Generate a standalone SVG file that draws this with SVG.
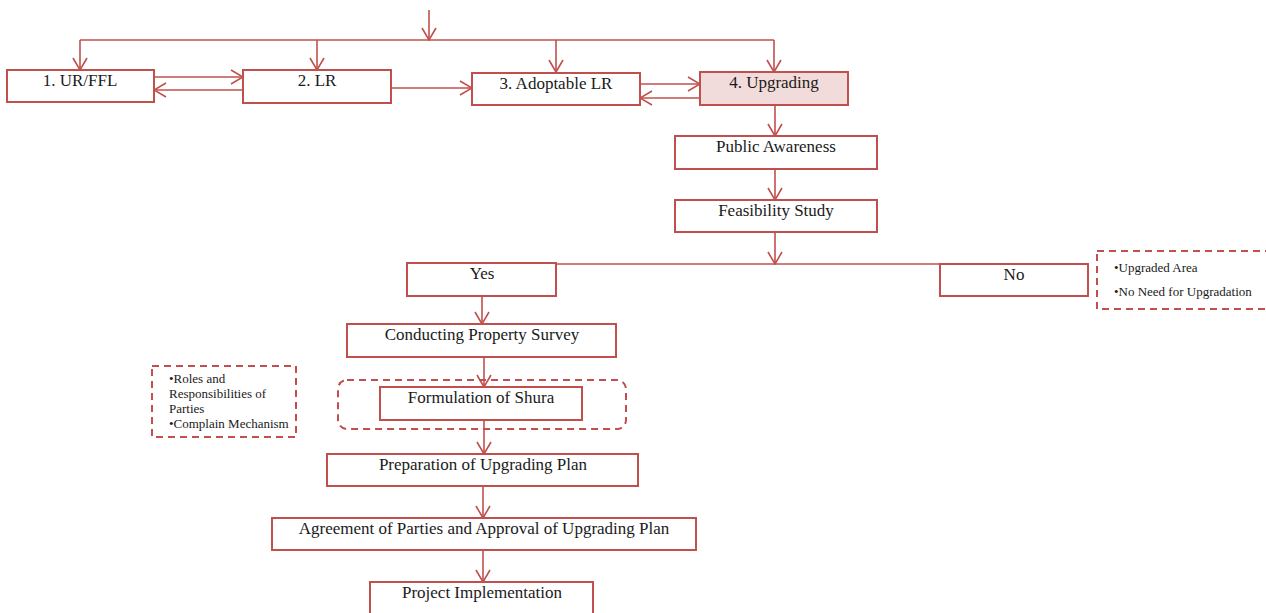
<svg xmlns="http://www.w3.org/2000/svg" width="1266" height="613" viewBox="0 0 1266 613">
<style>
.box{fill:#ffffff;stroke:#c0504d;stroke-width:2}
.hl{fill:#f2dcdb}
.dash{fill:none;stroke:#c0504d;stroke-width:2;stroke-dasharray:7,5}
.ln{fill:none;stroke:#c0504d;stroke-width:1.6}
.t{font-family:"Liberation Serif","DejaVu Serif",serif;font-size:17px;fill:#1a1a1a;text-anchor:middle}
.s{font-family:"Liberation Serif","DejaVu Serif",serif;font-size:13px;fill:#1a1a1a}
</style>
<defs>
<marker id="ah" viewBox="0 0 14 16" refX="13" refY="8" markerWidth="14" markerHeight="16" markerUnits="userSpaceOnUse" orient="auto">
<path d="M1,1 L13,8 L1,15" fill="none" stroke="#c0504d" stroke-width="1.6"/>
</marker>
</defs>
<rect width="1266" height="613" fill="#ffffff"/>
<g id="connectors">
<path class="ln" d="M429,10 V40" marker-end="url(#ah)"/>
<path class="ln" d="M80,40 H774"/>
<path class="ln" d="M80,40 V70" marker-end="url(#ah)"/>
<path class="ln" d="M317,40 V70" marker-end="url(#ah)"/>
<path class="ln" d="M556,40 V72" marker-end="url(#ah)"/>
<path class="ln" d="M774,40 V72" marker-end="url(#ah)"/>
<path class="ln" d="M154,77 H243" marker-end="url(#ah)"/>
<path class="ln" d="M243,90 H154" marker-end="url(#ah)"/>
<path class="ln" d="M391,88 H472" marker-end="url(#ah)"/>
<path class="ln" d="M640,84 H700" marker-end="url(#ah)"/>
<path class="ln" d="M700,98 H640" marker-end="url(#ah)"/>
<path class="ln" d="M775,105 V136" marker-end="url(#ah)"/>
<path class="ln" d="M775,169 V200" marker-end="url(#ah)"/>
<path class="ln" d="M775,232 V264" marker-end="url(#ah)"/>
<path class="ln" d="M556,264 H940"/>
<path class="ln" d="M482,296 V324" marker-end="url(#ah)"/>
<path class="ln" d="M484,357 V387" marker-end="url(#ah)"/>
<path class="ln" d="M484,420 V454" marker-end="url(#ah)"/>
<path class="ln" d="M483,486 V518" marker-end="url(#ah)"/>
<path class="ln" d="M483,550 V582" marker-end="url(#ah)"/>
</g>
<g id="n1"><rect class="box" x="7" y="70" width="147" height="32"/><text class="t" x="80" y="86">1. UR/FFL</text></g>
<g id="n2"><rect class="box" x="243" y="70" width="148" height="33"/><text class="t" x="317" y="86">2. LR</text></g>
<g id="n3"><rect class="box" x="472" y="73" width="168" height="32"/><text class="t" x="556" y="89">3. Adoptable LR</text></g>
<g id="n4"><rect class="box hl" x="700" y="72" width="148" height="33"/><text class="t" x="774" y="88">4. Upgrading</text></g>
<g id="n5"><rect class="box" x="675" y="136" width="202" height="33"/><text class="t" x="776" y="152">Public Awareness</text></g>
<g id="n6"><rect class="box" x="675" y="200" width="202" height="32"/><text class="t" x="776" y="216">Feasibility Study</text></g>
<g id="n7"><rect class="box" x="407" y="263" width="149" height="33"/><text class="t" x="482" y="279">Yes</text></g>
<g id="n8"><rect class="box" x="940" y="264" width="148" height="32"/><text class="t" x="1014" y="280">No</text></g>
<g id="n9"><rect class="dash" x="1097" y="251" width="175" height="58"/><text class="s" x="1114" y="272">•Upgraded Area</text><text class="s" x="1114" y="296">•No Need for Upgradation</text></g>
<g id="n10"><rect class="box" x="347" y="324" width="269" height="33"/><text class="t" x="482" y="340">Conducting Property Survey</text></g>
<g id="n11"><rect class="dash" x="152" y="366" width="144" height="71"/><text class="s" x="169" y="383">•Roles and</text><text class="s" x="169" y="398">Responsibilities of</text><text class="s" x="169" y="413">Parties</text><text class="s" x="169" y="428">•Complain Mechanism</text></g>
<g id="n12"><rect class="dash" x="338" y="380" width="288" height="49" rx="9"/><rect class="box" x="380" y="387" width="202" height="33"/><text class="t" x="481" y="403">Formulation of Shura</text></g>
<g id="n13"><rect class="box" x="327" y="454" width="311" height="32"/><text class="t" x="483" y="470">Preparation of Upgrading Plan</text></g>
<g id="n14"><rect class="box" x="272" y="518" width="424" height="32"/><text class="t" x="484" y="534">Agreement of Parties and Approval of Upgrading Plan</text></g>
<g id="n15"><rect class="box" x="370" y="582" width="223" height="40"/><text class="t" x="482" y="598">Project Implementation</text></g>
</svg>
